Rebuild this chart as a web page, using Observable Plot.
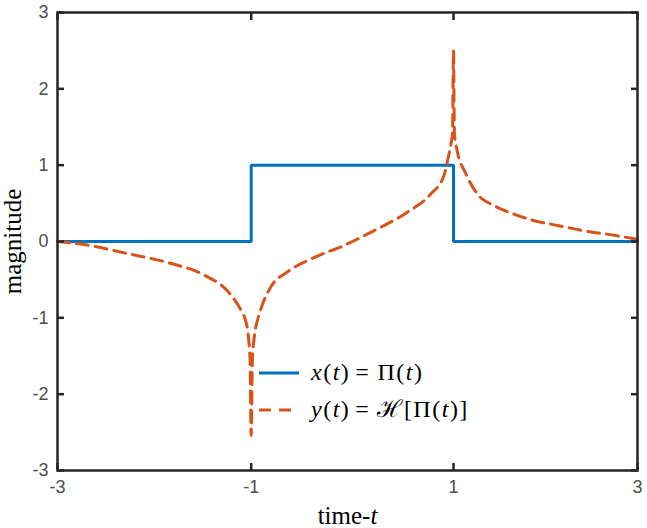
<!DOCTYPE html>
<html>
<head>
<meta charset="utf-8">
<script src="https://cdn.jsdelivr.net/npm/d3@7"></script>
<script src="https://cdn.jsdelivr.net/npm/@observablehq/plot@0.6"></script>
<style>
  body { margin: 0; background: #fff; }
  #wrap { position: relative; width: 647px; height: 528px; overflow: hidden; }
  #wrap svg text { font-family: "Liberation Sans", Arial, sans-serif; }
  g[aria-label="y-axis label"] text, g[aria-label="x-axis label"] text {
    font-family: "Liberation Serif", "Times New Roman", serif !important;
    font-size: 25px; fill: #000;
  }
  .legtext { position: absolute; font-family: "Liberation Serif", "Times New Roman", serif;
    font-size: 24px; line-height: 30px; letter-spacing: 1.5px; color: #000; white-space: nowrap; }
  .legtext .eq { margin: 0 7px 0 5px; }
</style>
</head>
<body>
<div id="wrap"></div>
<script>
// ---- data ----
const xTicks = [-3, -1, 1, 3];
const yTicks = [-3, -2, -1, 0, 1, 2, 3];

// x(t) = Π(t): rectangular pulse
const rectT = [-3, -1, -1, 1, 1, 3];
const rectV = [0, 0, 1, 1, 0, 0];

// y(t) = H[Π(t)]: values
const hilT = [-3.00, -2.68, -2.27, -1.85, -1.47, -1.23, -1.09, -1.059, -1.025, -1.012, -1.00,
              -0.988, -0.974, -0.907, -0.808, -0.643, -0.378, -0.08, 0.21, 0.54, 0.773, 0.905,
              0.945, 0.975, 0.99, 1.00, 1.01, 1.04, 1.13, 1.26, 1.44, 1.655, 1.87, 2.13, 2.42, 2.70, 3.00];
const hilV = [0.00, -0.05, -0.16, -0.28, -0.45, -0.67, -0.94, -1.03, -1.30, -1.55, -2.54,
              -1.55, -1.30, -0.90, -0.60, -0.40, -0.21, -0.05, 0.14, 0.38, 0.62, 0.86,
              1.08, 1.28, 1.42, 2.50, 1.42, 1.19, 0.90, 0.62, 0.47, 0.36, 0.275, 0.21, 0.14, 0.09, 0.03];

const seriesLabels = [
  '<i>x</i>(<i>t</i>)<span class="eq">=</span>Π(<i>t</i>)',
  '<i>y</i>(<i>t</i>)<span class="eq">=</span>ℋ[Π(<i>t</i>)]'
];
const seriesColors = ["#0072BD", "#D95319"];
const seriesDash = [null, "12,7"];

const rect = rectT.map((t, i) => ({t, v: rectV[i]}));
const hil = hilT.map((t, i) => ({t, v: hilV[i]}));

const fmt = d => String(d);
const axisCol = "#262626";
const chart = Plot.plot({
  width: 647,
  height: 528,
  marginLeft: 57,
  marginRight: 10,
  marginTop: 12,
  marginBottom: 58,
  style: {background: "#fff", fontSize: "18px", color: "#4d4d4d", overflow: "visible"},
  x: {domain: [-3, 3], range: [57, 250.7, 453, 637]},
  y: {domain: [-3, 3]},
  marks: [
    Plot.line(rect, {x: "t", y: "v", stroke: seriesColors[0], strokeWidth: 3, strokeLinejoin: "miter"}),
    Plot.line(hil, {x: "t", y: "v", stroke: seriesColors[1], strokeWidth: 3,
      strokeDasharray: seriesDash[1], curve: "monotone-x"}),
    Plot.axisX(xTicks, {anchor: "bottom", tickSize: -7, tickPadding: 17, stroke: axisCol, strokeWidth: 2.5,
      fill: "#4d4d4d", tickFormat: fmt, label: "time-t", labelAnchor: "center", labelArrow: "none", labelOffset: 53}),
    Plot.axisX(xTicks, {anchor: "top", tickSize: -7, stroke: axisCol, strokeWidth: 2.5, tickFormat: () => "", label: null}),
    Plot.axisY(yTicks, {anchor: "left", tickSize: -7, tickPadding: 16, stroke: axisCol, strokeWidth: 2.5,
      fill: "#4d4d4d", tickFormat: fmt, label: "magnitude", labelAnchor: "center", labelArrow: "none", labelOffset: 54}),
    Plot.axisY(yTicks, {anchor: "right", tickSize: -7, stroke: axisCol, strokeWidth: 2.5, tickFormat: () => "", label: null}),
    Plot.frame({stroke: axisCol, strokeWidth: 2.5})
  ]
});

const wrap = document.getElementById("wrap");
wrap.appendChild(chart);

// italic t in the x label
const xl = chart.querySelector('g[aria-label="x-axis label"] text');
if (xl) xl.innerHTML = 'time-<tspan font-style="italic">t</tspan>';

// legend (inside the plot, no box)
const legendRows = [373, 410];
const ns = "http://www.w3.org/2000/svg";
const lsvg = document.createElementNS(ns, "svg");
lsvg.setAttribute("width", 647); lsvg.setAttribute("height", 528);
lsvg.style.position = "absolute"; lsvg.style.left = "0"; lsvg.style.top = "0"; lsvg.style.pointerEvents = "none";
legendRows.forEach((cy, i) => {
  const ln = document.createElementNS(ns, "line");
  ln.setAttribute("x1", 259); ln.setAttribute("x2", seriesDash[i] ? 296 : 299);
  ln.setAttribute("y1", cy); ln.setAttribute("y2", cy);
  ln.setAttribute("stroke", seriesColors[i]); ln.setAttribute("stroke-width", 3);
  if (seriesDash[i]) ln.setAttribute("stroke-dasharray", "12,8");
  lsvg.appendChild(ln);
  const tx = document.createElement("div");
  tx.className = "legtext";
  tx.style.left = "311px";
  tx.style.top = (cy - 16) + "px";
  tx.innerHTML = seriesLabels[i];
  wrap.appendChild(tx);
});
wrap.appendChild(lsvg);
</script>
</body>
</html>
